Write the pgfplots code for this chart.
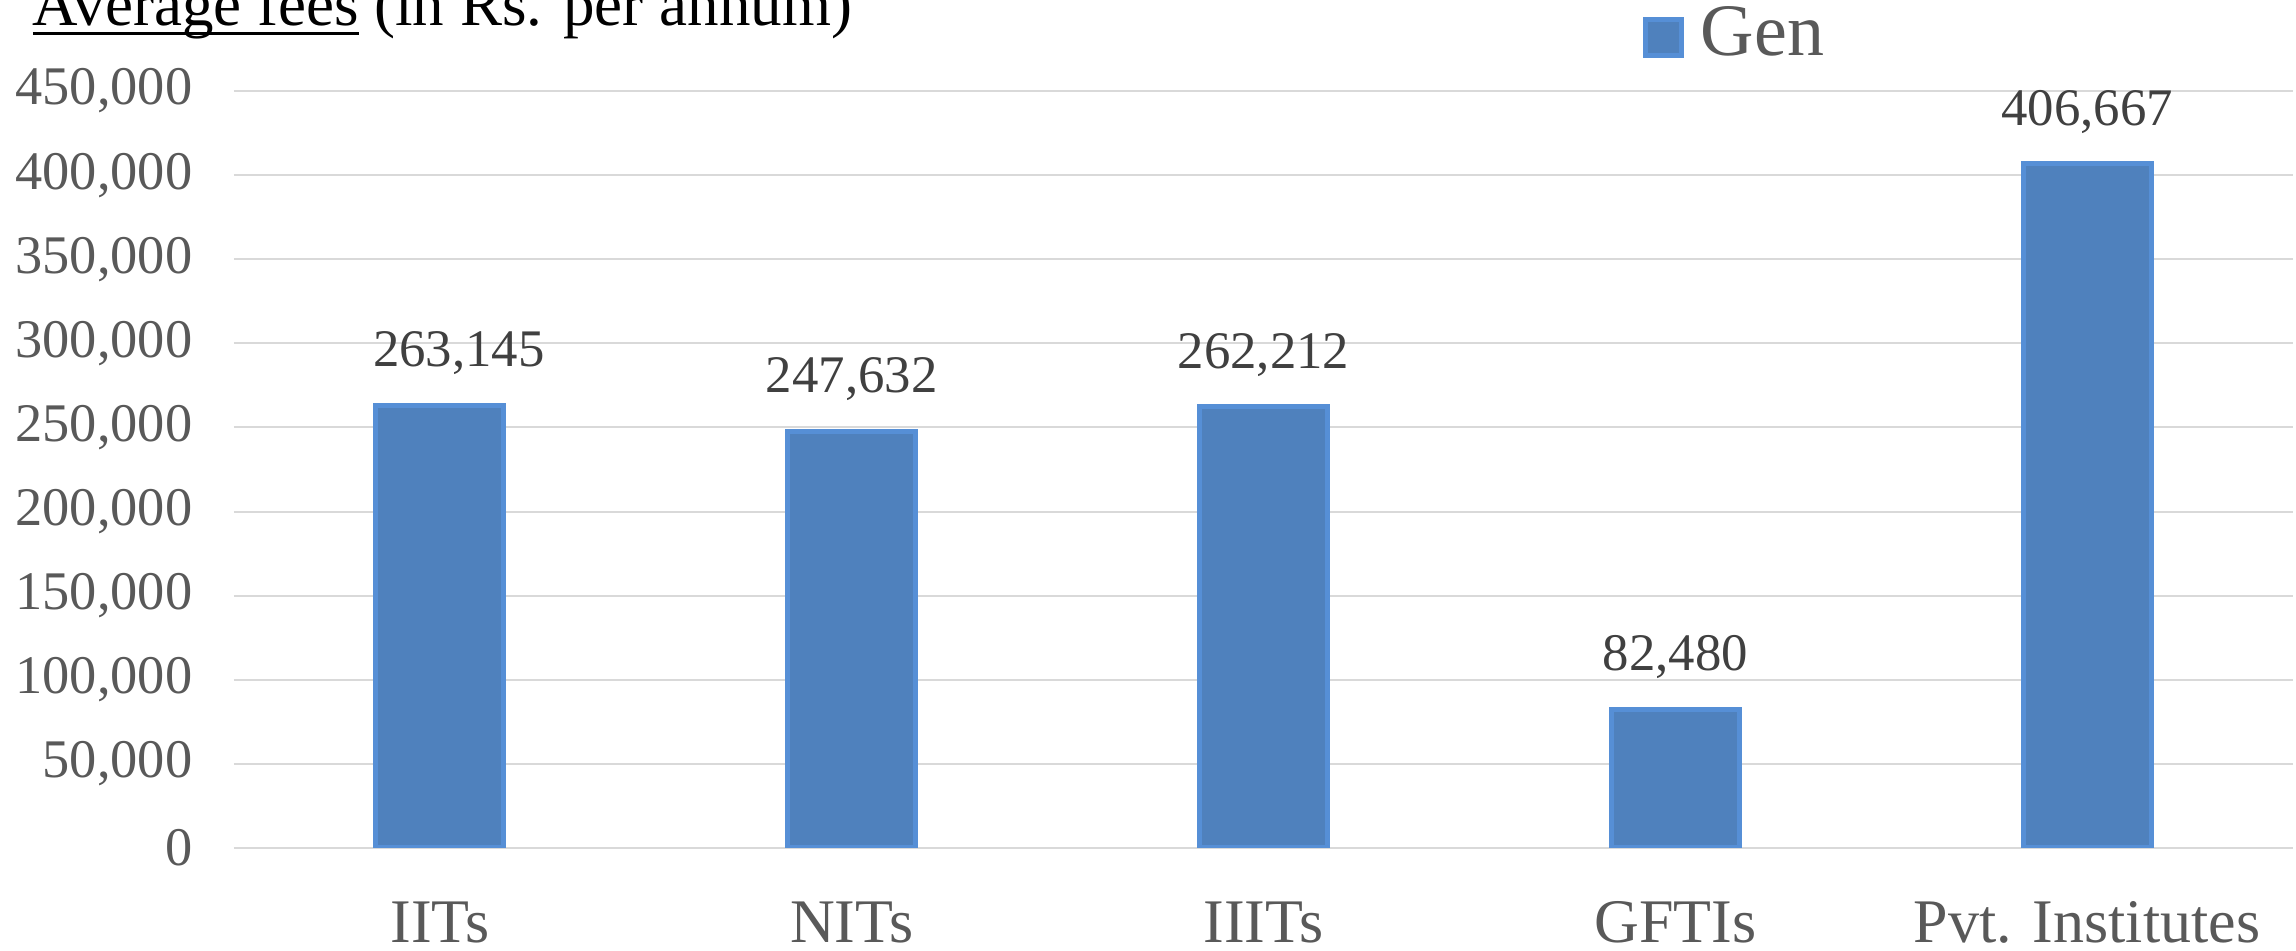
\documentclass[border=0pt]{standalone}
\usepackage{fontspec}
\setmainfont{Liberation Serif}
\usepackage{pgfplots}
\usepackage{pgfplotstable}
\pgfplotsset{compat=1.18}
\definecolor{barfill}{RGB}{79,129,189}
\definecolor{baredge}{RGB}{86,143,214}
\definecolor{gridc}{RGB}{217,217,217}
\definecolor{tickc}{RGB}{89,89,89}
\definecolor{labc}{RGB}{64,64,64}
\pgfplotstableread{
x fee dx
0 263145 4.75
1 247632 0
2 262212 0
3 82480 0
4 406667 0
}\feedata
\newsavebox\titlebox
\begin{document}
\begin{tikzpicture}
\begin{axis}[
  at={(0,0)}, anchor=south west, scale only axis,
  width=514.75pt, height=189.25pt,
  ybar, bar width=32pt,
  xmin=-0.5, xmax=4.5, ymin=0, ymax=450000,
  xtick=data, xticklabels={IITs,NITs,IIITs,GFTIs,Pvt. Institutes},
  ytick={0,50000,100000,150000,200000,250000,300000,350000,400000,450000},
  ymajorgrids, major grid style={gridc, line width=0.5pt},
  axis line style={draw=none}, tick style={draw=none},
  scaled y ticks=false,
  /pgf/number format/fixed,
  /pgf/number format/precision=0,
  /pgf/number format/1000 sep={,},
  /pgf/number format/assume math mode=true,
  yticklabel style={font=\fontsize{13.6}{15}\selectfont, text=tickc, inner sep=0pt, xshift=-10.2pt},
  xticklabel style={font=\fontsize{15.5}{18}\selectfont, text=tickc, inner sep=0pt, anchor=base, yshift=-19.35pt},
  nodes near coords,
  visualization depends on={\thisrow{dx} \as \dx},
  every node near coord/.append style={font=\fontsize{13.2}{15}\selectfont, text=labc, inner sep=0pt, text depth=0pt, yshift=9pt, xshift=\dx pt},
  legend style={at={(axis description cs:0,1)}, anchor=south west, xshift=352pt, yshift=7.25pt, draw=none, fill=none, inner sep=0pt, nodes={inner sep=0pt}, font=\fontsize{18.5}{20}\selectfont, text=tickc, /tikz/every odd column/.append style={column sep=4.25pt}},
  legend image code/.code={\draw[#1] (0pt,-5.5pt) rectangle (9pt,3.5pt);},
]
\addplot[fill=barfill, draw=baredge, line width=1.25pt] table[x=x, y=fee] {\feedata};
\addlegendentry{Gen}
\end{axis}
\node[anchor=base west, inner sep=0pt, font=\fontsize{15.75}{18}\selectfont] at (-50.5pt,205.5pt) {\sbox\titlebox{Average fees}\rlap{\rule[-2.3pt]{\wd\titlebox}{0.85pt}}\usebox\titlebox{} (in Rs. per annum)};
\pgfresetboundingbox
\useasboundingbox (-58.5pt,-25.75pt) rectangle (515.5pt,212pt);
\end{tikzpicture}
\end{document}
